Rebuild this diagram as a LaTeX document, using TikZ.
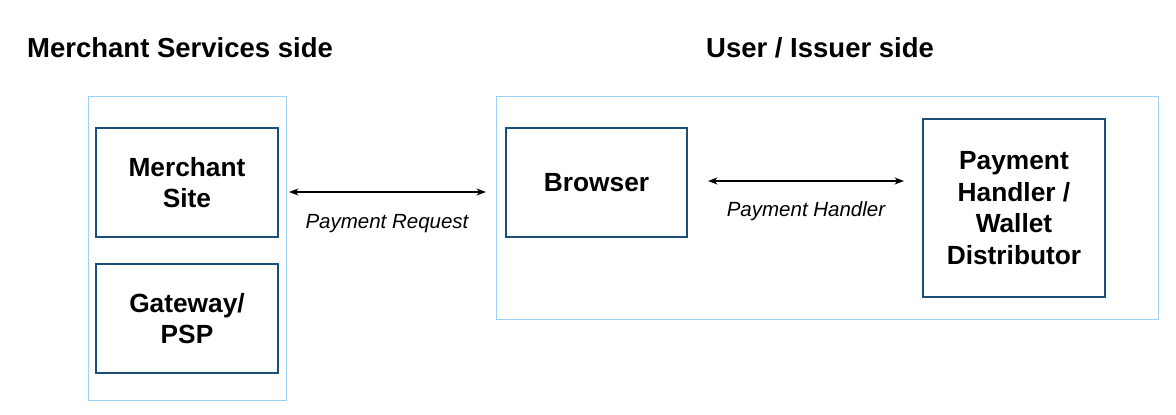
\documentclass[tikz,border=0pt]{standalone}
\usepackage{fontspec}
\setmainfont{Liberation Sans}
\usetikzlibrary{arrows.meta}
\definecolor{cont}{HTML}{9CD3F7}
\definecolor{boxc}{HTML}{1B4F78}
\begin{document}
\begin{tikzpicture}[x=1pt,y=-1pt,
  container/.style={draw=cont,line width=1pt},
  card/.style={draw=boxc,line width=2.4pt,align=center,font=\fontsize{26.3}{31.7}\selectfont\bfseries},
  title/.style={font=\fontsize{27.5}{30}\selectfont\bfseries,anchor=base west,inner sep=0},
  lbl/.style={font=\fontsize{20.5}{22}\selectfont\itshape,inner sep=0},
  link/.style={{Stealth[length=9.5pt,width=7pt]}-{Stealth[length=9.5pt,width=7pt]},line width=1.3pt}]
\useasboundingbox (0,0) rectangle (1176,415);
\node[title] (t1) at (27,57) {Merchant Services side};
\node[title] (t2) at (706,57) {User / Issuer side};
\draw[container] (88,96) rectangle (286,400);
\draw[container] (496,96) rectangle (1158,319);
\node[card,minimum width=182pt,minimum height=109pt] (ms) at (187,182.5) {Merchant\\Site};
\node[card,minimum width=182pt,minimum height=109pt] (gw) at (187,318.5) {Gateway/\\PSP};
\node[card,minimum width=181pt,minimum height=109pt] (br) at (596.5,182.5) {Browser};
\node[card,minimum width=182pt,minimum height=178pt] (ph) at (1014,208) {Payment\\Handler /\\Wallet\\Distributor};
\coordinate (a1) at (289,192);
\coordinate (a2) at (486,192);
\draw[link] (a1) -- (a2);
\node[lbl] (l1) at (387,223.5) {Payment Request};
\coordinate (b1) at (708,181);
\coordinate (b2) at (904,181);
\draw[link] (b1) -- (b2);
\node[lbl] (l2) at (806,211) {Payment Handler};
\end{tikzpicture}
\end{document}
